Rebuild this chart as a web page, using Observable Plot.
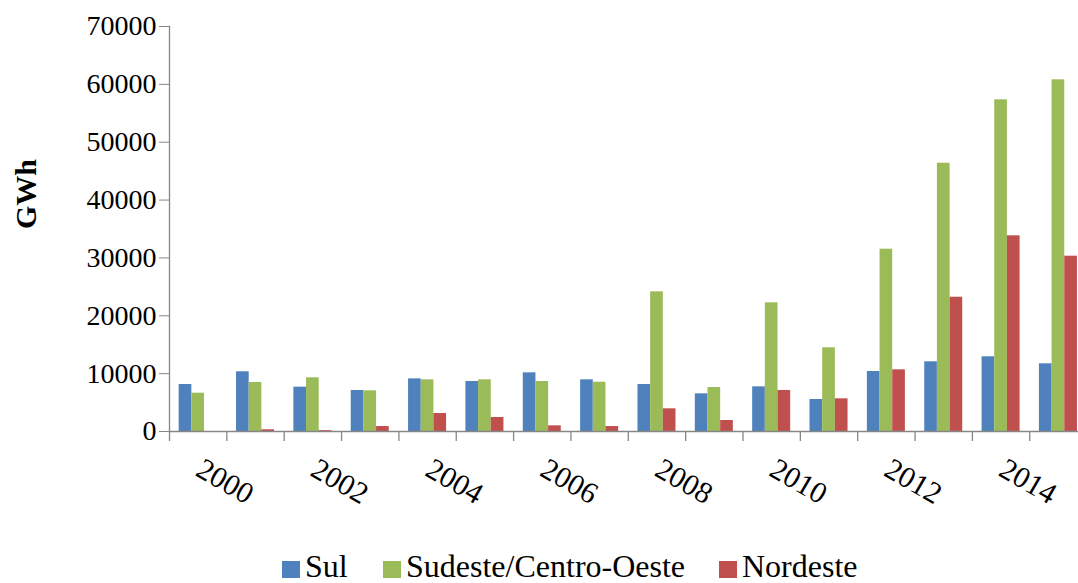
<!DOCTYPE html>
<html><head><meta charset="utf-8">
<script src="https://cdn.jsdelivr.net/npm/d3@7"></script>
<script src="https://cdn.jsdelivr.net/npm/@observablehq/plot@0.6"></script>
<style>
html,body{margin:0;padding:0;background:#fff;overflow:hidden;width:1078px;height:583px}
#wrap{position:relative;width:1078px;height:583px;overflow:hidden;background:#fff}
#chart{width:1090px}
#chart svg{display:block;max-width:none !important;height:540px !important}
.legend{position:absolute;top:540px;left:0;width:1078px;height:43px;font-family:'Liberation Serif','Times New Roman',serif;font-size:32px;line-height:32px;color:#000}
.item{position:absolute;top:10px;height:32px;display:flex;align-items:center;white-space:nowrap}
.sw{width:18px;height:17px;margin-right:5px;margin-top:7px}
</style></head>
<body><div id="wrap"><div id="chart"></div><div class="legend" id="legend"></div></div>
<script>
const years = [2000,2001,2002,2003,2004,2005,2006,2007,2008,2009,2010,2011,2012,2013,2014,2015];
const series = ["Sul","Sudeste/Centro-Oeste","Nordeste"];
const colors = ["#4F81BD","#9BBB59","#C0504D"];
const sul      = [8120,10320,7660,7090,9100,8640,10140,8930,8120,6510,7720,5530,10370,12050,12910,11700];
const sudeste  = [6620,8470,9280,7030,8930,8930,8640,8520,24140,7600,22240,14470,31510,46370,57330,60780];
const nordeste = [0,300,150,860,3110,2420,980,860,3920,1900,7090,5650,10660,23210,33820,30300];
const yTicks = [0,10000,20000,30000,40000,50000,60000,70000];
const yearLabels = [2000,2002,2004,2006,2008,2010,2012,2014];
const yLabel = "GWh";

const values = [sul, sudeste, nordeste];
const data = years.flatMap((yr,i)=>series.map((s,j)=>({year: yr, series: s, value: values[j][i]})));

const W=1090, H=540, ML=169, MR=3.4, MT=26, MB=109;
const step = (W-ML-MR)/years.length;
const axisColor = "#868686";

const plot = Plot.plot({
  width: W, height: H, marginLeft: ML, marginRight: MR, marginTop: MT, marginBottom: MB,
  style: {fontFamily: "'Liberation Serif', serif", fontSize: "28px", color: "#000", background: "#fff", overflow: "visible", maxWidth: "none"},
  fx: {domain: years, padding: 0, round: false, axis: null},
  x: {domain: series, paddingInner: 0, paddingOuter: 0.763, round: false, axis: null},
  y: {domain: [0,70000], axis: null},
  color: {domain: series, range: colors},
  marks: [
    Plot.barY(data, {fx:"year", x:"series", y:"value", fill:"series"}),
    Plot.ruleY([0], {stroke: axisColor, strokeWidth: 1.3}),
    Plot.frame({anchor:"left", facetAnchor:"left", stroke: axisColor, strokeWidth: 1.3}),
    Plot.axisY({ticks: yTicks, tickSize: 10, tickPadding: 3, stroke: axisColor, tickFormat: d=>String(d), fontSize: 28, fill: "#000", label: null}),
    Plot.axisFx({anchor: "bottom", tickSize: 10, tickFormat: ()=>"", stroke: axisColor, strokeWidth: 1.3, dx: -step/2, label: null}),
    Plot.axisFx({anchor: "bottom", ticks: yearLabels, tickFormat: d=>String(d), tickSize: 0, tickRotate: 30, tickPadding: 9, dy: 26, dx: 1, fontSize: 30, fill: "#000", label: null}),
    Plot.text([yLabel], {text: d=>d, frameAnchor:"left", facetAnchor:"left", rotate:-90, dx: -143, fontWeight:"bold", fontSize: 30, fill:"#000"})
  ]
});
document.getElementById("chart").appendChild(plot);

const lefts = [282, 383, 719];
const legend = document.getElementById("legend");
series.forEach((s,i)=>{
  const it = document.createElement("div");
  it.className = "item";
  it.style.left = lefts[i] + "px";
  const sw = document.createElement("span");
  sw.className = "sw";
  sw.style.background = colors[i];
  const tx = document.createElement("span");
  tx.textContent = s;
  it.appendChild(sw); it.appendChild(tx);
  legend.appendChild(it);
});
</script>
</body></html>
